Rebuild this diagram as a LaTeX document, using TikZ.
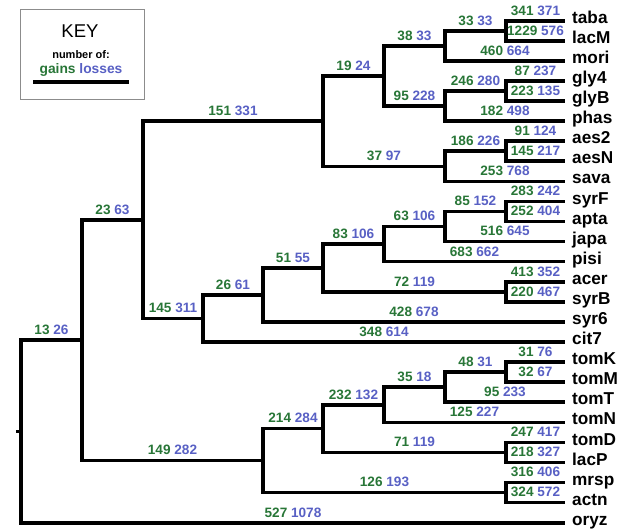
\documentclass[tikz,border=0pt]{standalone}
\usepackage{fontspec}
\setmainfont{Liberation Sans}
\usetikzlibrary{positioning}
\definecolor{gaincol}{RGB}{40,118,55}
\definecolor{losscol}{RGB}{88,96,196}
\newcommand{\GainLoss}[2]{\textcolor{gaincol}{#1} \textcolor{losscol}{#2}}

\begin{document}
\begin{tikzpicture}[x=1pt, y=-1pt,
    branch/.style={draw=black, line width=3.6pt},
    gainloss/.style={font=\bfseries\fontsize{13.6}{14}\selectfont, inner sep=0pt, above=3.7pt},
    taxon/.style={font=\bfseries\fontsize{17.2}{18}\selectfont, inner sep=0pt}
]
\useasboundingbox (0,0) rectangle (632,530);

% key
\node[draw=black!45, line width=0.8pt, minimum width=124pt, minimum height=90pt] (key) at (82,54) {};
\node[font=\fontsize{18.5}{20}\selectfont, anchor=base] (keytitle) at (80,37) {KEY};
\node[font=\bfseries\fontsize{11}{12}\selectfont, anchor=base] (keysub) at (81,58) {number of:};
\node[font=\bfseries\fontsize{13.8}{14}\selectfont, anchor=base] (keygl) at (81,73) {\GainLoss{gains}{losses}};
\coordinate (keyl) at (33,81.7);
\coordinate (keyr) at (129,81.7);
\draw[line width=3.6pt] (keyl) -- (keyr);

% leaves
\foreach \name [count=\i from 0] in {taba,lacM,mori,gly4,glyB,phas,aes2,aesN,sava,syrF,apta,japa,pisi,acer,syrB,syr6,cit7,tomK,tomM,tomT,tomN,tomD,lacP,mrsp,actn,oryz}{
  \coordinate (\name) at (565,20.7+20.08*\i);
  \node[taxon, right=7pt of \name, anchor=mid west] (t\name) {\name};
}

% internal nodes
\coordinate (nH) at (506,30.75);
\coordinate (nG) at (445,45.8);
\coordinate (nJ) at (506,91);
\coordinate (nI) at (445,106.05);
\coordinate (nE) at (384,75.9);
\coordinate (nK) at (506,151.25);
\coordinate (nF) at (445,166.3);
\coordinate (nD) at (323,121.1);
\coordinate (nR) at (506,211.45);
\coordinate (nQ) at (445,226.5);
\coordinate (nO) at (384,244.1);
\coordinate (nP) at (506,291.75);
\coordinate (nN) at (323,267.9);
\coordinate (nM) at (263,294.9);
\coordinate (nL) at (203,318.5);
\coordinate (nC) at (143,219.8);
\coordinate (nY) at (506,372.1);
\coordinate (nX) at (445,387.15);
\coordinate (nV) at (384,404.7);
\coordinate (nW) at (506,452.45);
\coordinate (nT) at (323,428.6);
\coordinate (nU) at (506,492.55);
\coordinate (nS) at (263,460.6);
\coordinate (nB) at (82,340.2);
\coordinate (nA) at (21,431.45);
\coordinate (stub) at (16,431.45);

\draw[branch] (nH) |- (taba) node[gainloss, pos=0.75] {\GainLoss{341}{371}};
\draw[branch] (nH) |- (lacM) node[gainloss, pos=0.75] {\GainLoss{1229}{576}};
\draw[branch] (nG) |- (nH) node[gainloss, pos=0.75] {\GainLoss{33}{33}};
\draw[branch] (nG) |- (mori) node[gainloss, pos=0.75] {\GainLoss{460}{664}};
\draw[branch] (nJ) |- (gly4) node[gainloss, pos=0.75] {\GainLoss{87}{237}};
\draw[branch] (nJ) |- (glyB) node[gainloss, pos=0.75] {\GainLoss{223}{135}};
\draw[branch] (nI) |- (nJ) node[gainloss, pos=0.75] {\GainLoss{246}{280}};
\draw[branch] (nI) |- (phas) node[gainloss, pos=0.75] {\GainLoss{182}{498}};
\draw[branch] (nE) |- (nG) node[gainloss, pos=0.75] {\GainLoss{38}{33}};
\draw[branch] (nE) |- (nI) node[gainloss, pos=0.75] {\GainLoss{95}{228}};
\draw[branch] (nK) |- (aes2) node[gainloss, pos=0.75] {\GainLoss{91}{124}};
\draw[branch] (nK) |- (aesN) node[gainloss, pos=0.75] {\GainLoss{145}{217}};
\draw[branch] (nF) |- (nK) node[gainloss, pos=0.75] {\GainLoss{186}{226}};
\draw[branch] (nF) |- (sava) node[gainloss, pos=0.75] {\GainLoss{253}{768}};
\draw[branch] (nD) |- (nE) node[gainloss, pos=0.75] {\GainLoss{19}{24}};
\draw[branch] (nD) |- (nF) node[gainloss, pos=0.75] {\GainLoss{37}{97}};
\draw[branch] (nR) |- (syrF) node[gainloss, pos=0.75] {\GainLoss{283}{242}};
\draw[branch] (nR) |- (apta) node[gainloss, pos=0.75] {\GainLoss{252}{404}};
\draw[branch] (nQ) |- (nR) node[gainloss, pos=0.75] {\GainLoss{85}{152}};
\draw[branch] (nQ) |- (japa) node[gainloss, pos=0.75] {\GainLoss{516}{645}};
\draw[branch] (nO) |- (nQ) node[gainloss, pos=0.75] {\GainLoss{63}{106}};
\draw[branch] (nO) |- (pisi) node[gainloss, pos=0.75] {\GainLoss{683}{662}};
\draw[branch] (nP) |- (acer) node[gainloss, pos=0.75] {\GainLoss{413}{352}};
\draw[branch] (nP) |- (syrB) node[gainloss, pos=0.75] {\GainLoss{220}{467}};
\draw[branch] (nN) |- (nO) node[gainloss, pos=0.75] {\GainLoss{83}{106}};
\draw[branch] (nN) |- (nP) node[gainloss, pos=0.75] {\GainLoss{72}{119}};
\draw[branch] (nM) |- (nN) node[gainloss, pos=0.75] {\GainLoss{51}{55}};
\draw[branch] (nM) |- (syr6) node[gainloss, pos=0.75] {\GainLoss{428}{678}};
\draw[branch] (nL) |- (nM) node[gainloss, pos=0.75] {\GainLoss{26}{61}};
\draw[branch] (nL) |- (cit7) node[gainloss, pos=0.75] {\GainLoss{348}{614}};
\draw[branch] (nC) |- (nD) node[gainloss, pos=0.75] {\GainLoss{151}{331}};
\draw[branch] (nC) |- (nL) node[gainloss, pos=0.75] {\GainLoss{145}{311}};
\draw[branch] (nY) |- (tomK) node[gainloss, pos=0.75] {\GainLoss{31}{76}};
\draw[branch] (nY) |- (tomM) node[gainloss, pos=0.75] {\GainLoss{32}{67}};
\draw[branch] (nX) |- (nY) node[gainloss, pos=0.75] {\GainLoss{48}{31}};
\draw[branch] (nX) |- (tomT) node[gainloss, pos=0.75] {\GainLoss{95}{233}};
\draw[branch] (nV) |- (nX) node[gainloss, pos=0.75] {\GainLoss{35}{18}};
\draw[branch] (nV) |- (tomN) node[gainloss, pos=0.75] {\GainLoss{125}{227}};
\draw[branch] (nW) |- (tomD) node[gainloss, pos=0.75] {\GainLoss{247}{417}};
\draw[branch] (nW) |- (lacP) node[gainloss, pos=0.75] {\GainLoss{218}{327}};
\draw[branch] (nT) |- (nV) node[gainloss, pos=0.75] {\GainLoss{232}{132}};
\draw[branch] (nT) |- (nW) node[gainloss, pos=0.75] {\GainLoss{71}{119}};
\draw[branch] (nU) |- (mrsp) node[gainloss, pos=0.75] {\GainLoss{316}{406}};
\draw[branch] (nU) |- (actn) node[gainloss, pos=0.75] {\GainLoss{324}{572}};
\draw[branch] (nS) |- (nT) node[gainloss, pos=0.75] {\GainLoss{214}{284}};
\draw[branch] (nS) |- (nU) node[gainloss, pos=0.75] {\GainLoss{126}{193}};
\draw[branch] (nB) |- (nC) node[gainloss, pos=0.75] {\GainLoss{23}{63}};
\draw[branch] (nB) |- (nS) node[gainloss, pos=0.75] {\GainLoss{149}{282}};
\draw[branch] (nA) |- (nB) node[gainloss, pos=0.75] {\GainLoss{13}{26}};
\draw[branch] (nA) |- (oryz) node[gainloss, pos=0.75] {\GainLoss{527}{1078}};
\draw[branch] (stub) -- (nA);
\end{tikzpicture}
\end{document}
